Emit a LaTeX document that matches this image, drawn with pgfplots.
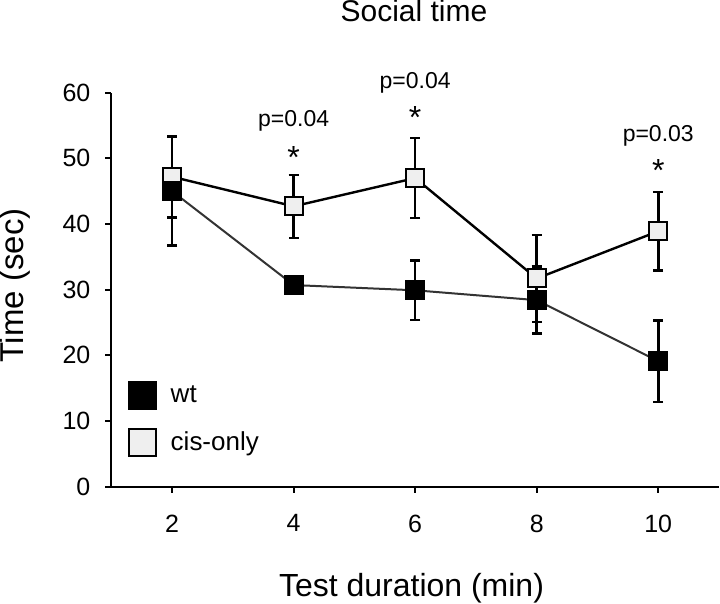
\documentclass[border=0pt]{standalone}
\usepackage{fontspec}
\setmainfont{Liberation Sans}
\usepackage{pgfplots}
\pgfplotsset{compat=1.18}
\usepackage{pgfplotstable}

\definecolor{cisfill}{HTML}{EFEFEF}
\definecolor{wtline}{HTML}{333333}

% x  y  err
\pgfplotstableread{
x   y     err
2   45.0  8.3
4   30.7  1.0
6   29.9  4.5
8   28.4  5.1
10  19.1  6.2
}\wtdata
\pgfplotstableread{
x   y     err
2   47.2  6.2
4   42.7  4.8
6   47.0  6.1
8   31.7  6.6
10  38.9  6.0
}\cisdata

\begin{document}
\begin{tikzpicture}
\begin{axis}[
    scale only axis,
    width=304pt, height=197pt,
    xmin=1, xmax=11,
    ymin=0, ymax=60,
    xtick={2,4,6,8,10},
    ytick={0,10,20,30,40,50,60},
    axis x line*=bottom,
    axis y line*=left,
    axis line style={line width=1pt},
    tick align=outside,
    major tick length=3pt,
    tick style={line width=1pt, black},
    /pgf/number format/assume math mode=true,
    ticklabel style={font=\fontsize{12.5}{15}\selectfont},
    xticklabel style={yshift=-7.5pt},
    yticklabel style={xshift=-4pt},
    clip=false,
    title={Social time},
    title style={at={(axis description cs:0.498,1.15)}, anchor=base, yshift=0pt,
        inner sep=0pt, font=\fontsize{15}{18}\selectfont},
    xlabel={Test duration (min)},
    xlabel style={at={(axis description cs:0.494,-0.28)}, anchor=base,
        inner sep=0pt, font=\fontsize{16}{19}\selectfont},
    ylabel={Time (sec)},
    ylabel style={at={(axis description cs:-0.158,0.51)}, anchor=center,
        inner sep=0pt, font=\fontsize{16.5}{20}\selectfont},
    reverse legend,
    legend cell align=left,
    legend style={at={(axis description cs:0.026,0.269)}, anchor=north west,
        draw=none, fill=none, inner sep=0pt, row sep=9pt,
        font=\fontsize{13}{15}\selectfont,
        nodes={inner sep=0pt, anchor=west}},
]

\addplot[
    black, line width=1.2pt,
    mark=square*, mark size=4.5pt,
    mark options={fill=cisfill, draw=black, line width=1pt, solid},
    error bars/.cd, y dir=both, y explicit,
    error bar style={line width=1.3pt, black},
    error mark options={rotate=90, mark size=2.5pt, line width=1.3pt, black},
    /pgfplots/legend image code/.code={
        \draw[black, fill=cisfill, line width=1pt] (0pt,-6.75pt) rectangle (13.5pt,6.75pt);
        \path (20.5pt,0pt);},
    ] table[x=x, y=y, y error=err] {\cisdata};
\addlegendentry{cis-only}

\addplot[
    wtline, line width=1pt,
    mark=square*, mark size=4.5pt,
    mark options={fill=black, draw=black, line width=1pt, solid},
    error bars/.cd, y dir=both, y explicit,
    error bar style={line width=1.3pt, black},
    error mark options={rotate=90, mark size=2.5pt, line width=1.3pt, black},
    /pgfplots/legend image code/.code={
        \draw[black, fill=black, line width=1pt] (0pt,-6.75pt) rectangle (13.5pt,6.75pt);
        \path (20.5pt,0pt);},
    ] table[x=x, y=y, y error=err] {\wtdata};
\addlegendentry{wt}

% significance annotations
\node[anchor=base, font=\fontsize{11.5}{14}\selectfont] at (axis cs:4,54.8) {p=0.04};
\node[anchor=base, font=\fontsize{16}{19}\selectfont] at (axis cs:4,48.5) {*};
\node[anchor=base, font=\fontsize{11.5}{14}\selectfont] at (axis cs:6,60.7) {p=0.04};
\node[anchor=base, font=\fontsize{16}{19}\selectfont] at (axis cs:6,54.6) {*};
\node[anchor=base, font=\fontsize{11.5}{14}\selectfont] at (axis cs:10,52.6) {p=0.03};
\node[anchor=base, font=\fontsize{16}{19}\selectfont] at (axis cs:10,46.5) {*};
\end{axis}
\end{tikzpicture}
\end{document}
